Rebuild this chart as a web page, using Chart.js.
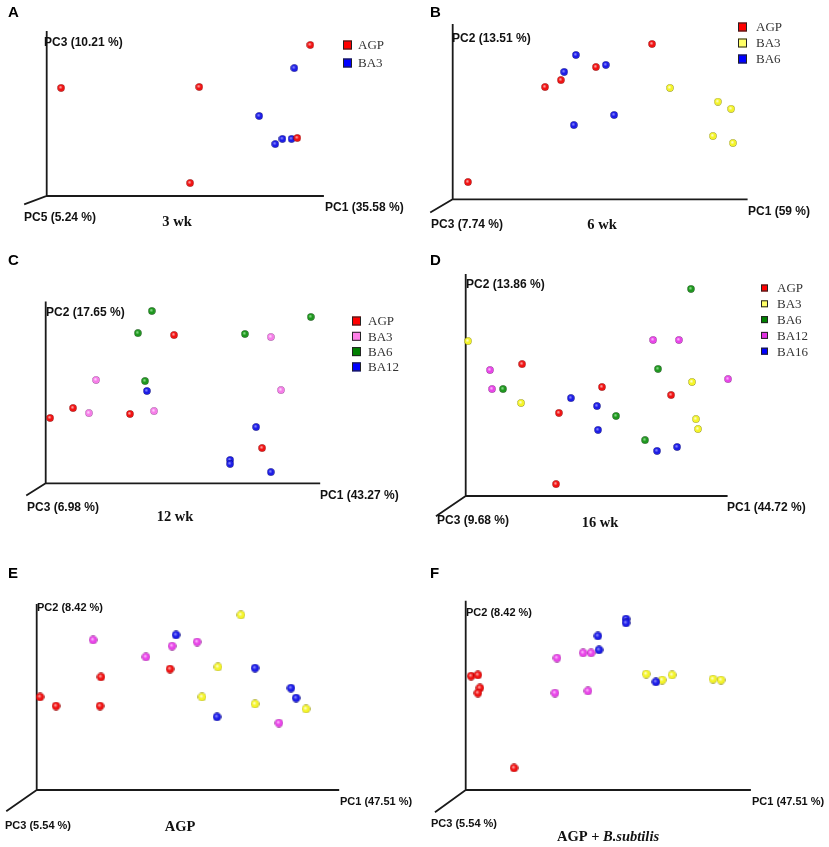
<!DOCTYPE html>
<html><head><meta charset="utf-8">
<script src="https://cdn.jsdelivr.net/npm/chart.js@4.4.1/dist/chart.umd.min.js"></script>
<style>
html,body{margin:0;padding:0;background:#fff;}
body{width:829px;height:847px;position:relative;overflow:hidden;}
canvas{position:absolute;}
</style></head><body>
<script>
// ---- Data: positions read as % of each plotted axis (0-100) ----
// Panel A: 3 wk (PC1 vs PC3)
const wk3_AGP = [[95.4,92.1],[5.2,65.9],[55.2,66.5],[90.7,35.4],[51.9,7.9]];
const wk3_BA3 = [[89.6,78.0],[76.9,48.8],[82.7,31.7],[85.3,34.8],[88.6,34.8]];
// Panel B: 6 wk
const wk6_AGP = [[67.8,89.1],[48.7,75.9],[36.8,68.4],[31.4,64.4],[5.2,9.9]];
const wk6_BA3 = [[73.9,63.9],[90.2,56.0],[94.7,51.9],[88.5,36.3],[95.3,32.3]];
const wk6_BA6 = [[41.9,82.8],[37.9,73.1],[52.1,77.1],[41.2,42.6],[54.9,48.4]];
// Panel C: 12 wk
const wk12_AGP  = [[46.9,81.9],[1.6,36.1],[10.0,41.6],[30.8,38.3],[79.1,19.5]];
const wk12_BA3  = [[82.3,80.8],[18.4,57.1],[15.8,38.8],[39.6,39.9],[86.0,51.5]];
const wk12_BA6  = [[38.8,95.2],[33.7,83.0],[72.8,82.5],[96.9,91.9],[36.3,56.5]];
const wk12_BA12 = [[37.0,51.0],[76.9,31.1],[67.4,12.9],[67.4,10.7],[82.3,6.2]];
// Panel D: 16 wk
const wk16_AGP  = [[21.6,59.7],[52.2,49.3],[35.7,37.6],[78.7,45.7],[34.6,5.4]];
const wk16_BA3  = [[0.9,70.1],[21.2,42.1],[86.7,51.6],[88.2,34.8],[89.0,30.3]];
const wk16_BA6  = [[86.3,93.7],[14.3,48.4],[73.7,57.5],[57.6,36.2],[68.7,25.3]];
const wk16_BA12 = [[9.3,57.0],[10.1,48.4],[71.8,70.6],[81.7,70.6],[100.5,52.9]];
const wk16_BA16 = [[40.3,44.3],[50.3,40.7],[50.7,29.9],[73.3,20.4],[81.0,22.2]];
// Panel E: AGP
const agp_red     = [[1.1,50.3],[6.4,45.4],[21.3,61.1],[21.0,45.4],[44.2,65.4]];
const agp_magenta = [[18.7,81.1],[36.2,71.9],[44.9,77.8],[53.2,80.0],[80.3,36.2]];
const agp_blue    = [[46.2,83.8],[72.4,65.9],[84.3,55.1],[86.0,49.7],[59.8,39.5]];
const agp_yellow  = [[67.7,94.6],[60.1,66.5],[54.8,50.3],[72.4,46.5],[89.3,43.8]];
// Panel F: AGP + B.subtilis
const bs_red     = [[1.9,60.5],[4.3,61.1],[5.0,54.2],[4.3,51.5],[17.0,11.7]];
const bs_magenta = [[32.1,70.1],[41.3,72.8],[44.1,72.8],[31.4,51.5],[43.0,52.6]];
const bs_blue    = [[56.4,90.8],[56.4,88.7],[46.5,81.8],[46.9,74.4],[66.9,57.4]];
const bs_yellow  = [[63.5,61.6],[69.1,58.4],[72.6,61.1],[87.0,58.9],[89.8,58.4]];

const groupsA = ['AGP','BA3'];
const groupsB = ['AGP','BA3','BA6'];
const groupsC = ['AGP','BA3','BA6','BA12'];
const groupsD = ['AGP','BA3','BA6','BA12','BA16'];
const groupsEF = ['Group 1','Group 2','Group 3','Group 4'];

// ---- Styles ----
const COL = {
  red:    {base:'#f01212', light:'#ffb0b0', edge:'#8a0000', legend:'#ff0000'},
  blue:   {base:'#1c1ce6', light:'#9090ff', edge:'#000078', legend:'#0000ff'},
  yellow: {base:'#f4f428', light:'#ffffe0', edge:'#8a8a00', legend:'#ffff66'},
  green:  {base:'#1e961e', light:'#90e090', edge:'#0c460c', legend:'#008000'},
  pink:   {base:'#f67ce8', light:'#ffe0ff', edge:'#944090', legend:'#ff80e8'},
  magenta:{base:'#e844e8', light:'#ffc0ff', edge:'#842084', legend:'#e030e0'}
};
function sphere(c, d){
  const cv=document.createElement('canvas'); cv.width=d; cv.height=d;
  const g=cv.getContext('2d'); const r=d/2-0.3;
  const gr=g.createRadialGradient(d*0.4,d*0.38,0.2,d/2,d/2,r);
  gr.addColorStop(0,c.light); gr.addColorStop(0.5,c.base); gr.addColorStop(0.85,c.base); gr.addColorStop(1,c.edge);
  g.beginPath(); g.arc(d/2,d/2,r,0,Math.PI*2); g.fillStyle=gr; g.fill();
  return cv;
}

const panels = [
 {letter:'A', cell:[0,0,414,240], box:[46.7,32,323,196], diag:[25,204], dot:8,
  series:[wk3_AGP,wk3_BA3], names:groupsA, colors:['red','blue'],
  y:{t:'PC3 (10.21 %)',x:44,y:43,f:'bold 12px "Liberation Sans", Arial'},
  xl:{t:'PC1 (35.58 %)',x:325,y:208,f:'bold 12px "Liberation Sans", Arial'},
  z:{t:'PC5 (5.24 %)',x:24,y:218,f:'bold 12px "Liberation Sans", Arial'},
  sub:{parts:[['3 wk','']],x:177,y:222}, L:[8,17],
  legend:{x:343,y0:45,dy:18,s:9,tx:358}},
 {letter:'B', cell:[414,0,415,240], box:[452.7,25,746.7,199.3], diag:[431,212], dot:8,
  series:[wk6_AGP,wk6_BA3,wk6_BA6], names:groupsB, colors:['red','yellow','blue'],
  y:{t:'PC2 (13.51 %)',x:452,y:39,f:'bold 12px "Liberation Sans", Arial'},
  xl:{t:'PC1 (59 %)',x:748,y:212,f:'bold 12px "Liberation Sans", Arial'},
  z:{t:'PC3 (7.74 %)',x:431,y:225,f:'bold 12px "Liberation Sans", Arial'},
  sub:{parts:[['6 wk','']],x:602,y:225}, L:[430,17],
  legend:{x:738,y0:27,dy:16,s:9,tx:756}},
 {letter:'C', cell:[0,240,414,305], box:[45.7,302.3,319.3,483.3], diag:[27,495], dot:8,
  series:[wk12_AGP,wk12_BA3,wk12_BA6,wk12_BA12], names:groupsC, colors:['red','pink','green','blue'],
  y:{t:'PC2 (17.65 %)',x:46,y:313,f:'bold 12px "Liberation Sans", Arial'},
  xl:{t:'PC1 (43.27 %)',x:320,y:496,f:'bold 12px "Liberation Sans", Arial'},
  z:{t:'PC3 (6.98 %)',x:27,y:508,f:'bold 12px "Liberation Sans", Arial'},
  sub:{parts:[['12 wk','']],x:175,y:517}, L:[8,265],
  legend:{x:352,y0:321,dy:15.3,s:9,tx:368}},
 {letter:'D', cell:[414,240,415,305], box:[465.7,275,726.7,496], diag:[436.7,515.7], dot:8,
  series:[wk16_AGP,wk16_BA3,wk16_BA6,wk16_BA12,wk16_BA16], names:groupsD, colors:['red','yellow','green','magenta','blue'],
  y:{t:'PC2 (13.86 %)',x:466,y:285,f:'bold 12px "Liberation Sans", Arial'},
  xl:{t:'PC1 (44.72 %)',x:727,y:508,f:'bold 12px "Liberation Sans", Arial'},
  z:{t:'PC3 (9.68 %)',x:437,y:521,f:'bold 12px "Liberation Sans", Arial'},
  sub:{parts:[['16 wk','']],x:600,y:523}, L:[430,265],
  legend:{x:761,y0:288,dy:15.8,s:7,tx:777}},
 {letter:'E', cell:[0,545,414,302], box:[36.7,605,338.3,790], diag:[7,810.7], dot:9,
  series:[agp_red,agp_magenta,agp_blue,agp_yellow], names:groupsEF, colors:['red','magenta','blue','yellow'],
  y:{t:'PC2 (8.42 %)',x:37,y:608,f:'bold 11px "Liberation Sans", Arial'},
  xl:{t:'PC1 (47.51 %)',x:340,y:802,f:'bold 11px "Liberation Sans", Arial'},
  z:{t:'PC3 (5.54 %)',x:5,y:826,f:'bold 11px "Liberation Sans", Arial'},
  sub:{parts:[['AGP','']],x:180,y:827}, L:[8,578], legend:null},
 {letter:'F', cell:[414,545,415,302], box:[465.7,601.7,750,790], diag:[435.7,811.7], dot:9,
  series:[bs_red,bs_magenta,bs_blue,bs_yellow], names:groupsEF, colors:['red','magenta','blue','yellow'],
  y:{t:'PC2 (8.42 %)',x:466,y:613,f:'bold 11px "Liberation Sans", Arial'},
  xl:{t:'PC1 (47.51 %)',x:752,y:802,f:'bold 11px "Liberation Sans", Arial'},
  z:{t:'PC3 (5.54 %)',x:431,y:824,f:'bold 11px "Liberation Sans", Arial'},
  sub:{parts:[['AGP + ',''],['B.subtilis','italic ']],x:608,y:837}, L:[430,578], legend:null}
];

const decor = {
  id:'decor',
  beforeDatasetsDraw(chart){
    const p=chart.options.plugins.decor.p; const ctx=chart.ctx;
    const ox=p.cell[0], oy=p.cell[1];
    const a=chart.chartArea;
    ctx.save(); ctx.strokeStyle='#1a1a1a'; ctx.lineWidth=1.8; ctx.lineCap='square';
    ctx.beginPath();
    ctx.moveTo(a.left,a.top); ctx.lineTo(a.left,a.bottom); ctx.lineTo(a.right,a.bottom);
    ctx.moveTo(a.left,a.bottom); ctx.lineTo(p.diag[0]-ox,p.diag[1]-oy);
    ctx.stroke(); ctx.restore();
  },
  afterDraw(chart){
    const p=chart.options.plugins.decor.p; const ctx=chart.ctx;
    const ox=p.cell[0], oy=p.cell[1];
    ctx.save(); ctx.fillStyle='#111'; ctx.textBaseline='middle'; ctx.textAlign='left';
    [p.y,p.xl,p.z].forEach(l=>{ctx.font=l.f; ctx.fillText(l.t,l.x-ox,l.y-oy);});
    let w=0; p.sub.parts.forEach(s=>{ctx.font=s[1]+'bold 14.5px "Liberation Serif", "Times New Roman", serif'; w+=ctx.measureText(s[0]).width;});
    let x=p.sub.x-ox-w/2;
    p.sub.parts.forEach(s=>{ctx.font=s[1]+'bold 14.5px "Liberation Serif", "Times New Roman", serif'; ctx.fillText(s[0],x,p.sub.y-oy); x+=ctx.measureText(s[0]).width;});
    ctx.textBaseline='alphabetic'; ctx.fillStyle='#000';
    ctx.font='bold 15px "Liberation Sans", Arial'; ctx.fillText(p.letter,p.L[0]-ox,p.L[1]-oy);
    if(p.legend){
      const g=p.legend; ctx.textBaseline='middle';
      chart.data.datasets.forEach((ds,i)=>{
        const cy=g.y0+i*g.dy-oy;
        ctx.fillStyle=COL[p.colors[i]].legend; ctx.strokeStyle='#222'; ctx.lineWidth=1;
        ctx.fillRect(g.x-ox,cy-g.s/2,g.s,g.s); ctx.strokeRect(g.x-ox+0.5,cy-g.s/2+0.5,g.s-1,g.s-1);
        ctx.fillStyle='#333'; ctx.font='13px "Liberation Serif", "Times New Roman", serif';
        ctx.fillText(ds.label,g.tx-ox,cy+1);
      });
    }
    ctx.restore();
  }
};

panels.forEach(p=>{
  const cv=document.createElement('canvas');
  cv.width=p.cell[2]; cv.height=p.cell[3];
  cv.style.left=p.cell[0]+'px'; cv.style.top=p.cell[1]+'px';
  cv.style.width=p.cell[2]+'px'; cv.style.height=p.cell[3]+'px';
  document.body.appendChild(cv);
  const datasets=p.series.map((s,i)=>({
    label:p.names[i],
    data:s.map(v=>({x:v[0],y:v[1]})),
    pointStyle:sphere(COL[p.colors[i]],p.dot),
    pointRadius:p.dot/2, clip:false
  }));
  new Chart(cv,{
    type:'scatter',
    data:{datasets},
    options:{
      responsive:false, animation:false, devicePixelRatio:1,
      layout:{padding:{left:p.box[0]-p.cell[0], top:p.box[1]-p.cell[1],
        right:p.cell[0]+p.cell[2]-p.box[2], bottom:p.cell[1]+p.cell[3]-p.box[3]}},
      scales:{x:{type:'linear',min:0,max:100,display:false},y:{type:'linear',min:0,max:100,display:false}},
      plugins:{legend:{display:false},tooltip:{enabled:false},decor:{p}}
    },
    plugins:[decor]
  });
});
</script>
</body></html>
